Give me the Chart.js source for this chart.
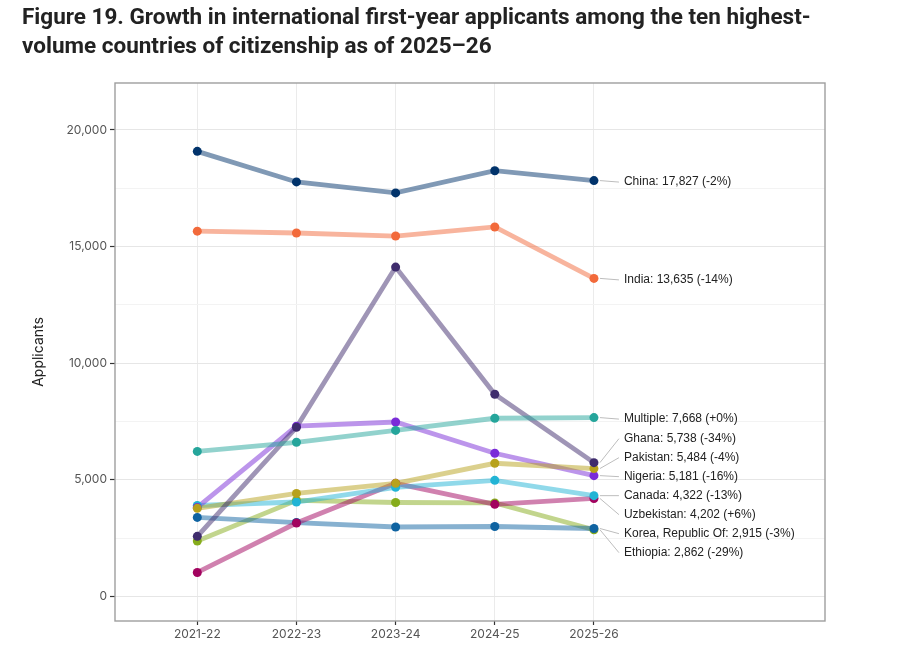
<!DOCTYPE html>
<html>
<head>
<meta charset="utf-8">
<script src="https://cdn.jsdelivr.net/npm/chart.js@4"></script>
<style>
  html, body { margin: 0; padding: 0; background: #ffffff; }
  #wrap { width: 914px; height: 656px; position: relative; }
</style>
</head>
<body>
<div id="wrap"><canvas id="c" width="914" height="656"></canvas></div>
<script>
// ---------------- data ----------------
const categories = ["2021-22", "2022-23", "2023-24", "2024-25", "2025-26"];
const yTickValues = [0, 2500, 5000, 7500, 10000, 12500, 15000, 17500, 20000];

const seriesNames = ["China", "India", "Multiple", "Ghana", "Pakistan", "Nigeria",
                     "Canada", "Uzbekistan", "Korea, Republic Of", "Ethiopia"];

const china      = [19080, 17770, 17300, 18250, 17827];
const india      = [15660, 15580, 15450, 15840, 13635];
const multiple   = [6220, 6610, 7120, 7640, 7668];
const ghana      = [2580, 7250, 14120, 8670, 5738];
const pakistan   = [3780, 4420, 4850, 5710, 5484];
const nigeria    = [3820, 7300, 7480, 6140, 5181];
const canada     = [3900, 4050, 4680, 4980, 4322];
const uzbekistan = [1030, 3150, 4850, 3950, 4202];
const korea      = [3390, 3170, 2980, 3000, 2915];
const ethiopia   = [2380, 4120, 4030, 4010, 2862];

const changeLabels = ["-2%", "-14%", "+0%", "-34%", "-4%", "-16%", "-13%", "+6%", "-3%", "-29%"];

const seriesValues = [china, india, multiple, ghana, pakistan, nigeria, canada, uzbekistan, korea, ethiopia];
const seriesColors = ["#01336b", "#f26a3b", "#25a59b", "#3f2c6d", "#b7a21c",
                      "#7a2cd8", "#22b4d5", "#a2035f", "#0f63a1", "#86ac1b"];

function hexA(hex, a) {
  const r = parseInt(hex.slice(1, 3), 16), g = parseInt(hex.slice(3, 5), 16), b = parseInt(hex.slice(5, 7), 16);
  return `rgba(${r},${g},${b},${a})`;
}

const lineDatasets = seriesValues.map((vals, i) => ({
  label: seriesNames[i] + " line",
  data: vals.map((v, j) => ({ x: j, y: v })),
  borderColor: hexA(seriesColors[i], 0.5),
  borderWidth: 4.8,
  pointRadius: 0,
  pointHoverRadius: 0,
  tension: 0,
  fill: false,
  order: 2
}));
const pointDatasets = seriesValues.map((vals, i) => ({
  label: seriesNames[i],
  data: vals.map((v, j) => ({ x: j, y: v })),
  showLine: false,
  pointRadius: 4.5,
  pointBackgroundColor: seriesColors[i],
  pointBorderWidth: 0,
  order: 1
}));

// -------- end labels with simple repel ----------
const endLabels = {
  id: "endLabels",
  afterDatasetsDraw(chart) {
    const { ctx, scales: { x, y } } = chart;
    const last = categories.length - 1;
    const px = x.getPixelForValue(last);
    const gap = 19;
    let items = seriesValues.map((vals, i) => ({ i, target: y.getPixelForValue(vals[last]) }));
    items.sort((a, b) => a.target - b.target);
    let clusters = items.map(it => ({ members: [it] }));
    const place = c => {
      const mean = c.members.reduce((s, m) => s + m.target, 0) / c.members.length;
      c.top = mean - gap * (c.members.length - 1) / 2;
    };
    clusters.forEach(place);
    let merged = true;
    while (merged) {
      merged = false;
      for (let k = 0; k < clusters.length - 1; k++) {
        const a = clusters[k], b = clusters[k + 1];
        const aBottom = a.top + gap * (a.members.length - 1);
        if (b.top - aBottom < gap) {
          a.members = a.members.concat(b.members);
          clusters.splice(k + 1, 1);
          place(a);
          merged = true;
          break;
        }
      }
    }
    ctx.save();
    ctx.font = "12px 'Liberation Sans', Arial, sans-serif";
    ctx.textBaseline = "middle";
    ctx.textAlign = "left";
    const lx = px + 29;
    clusters.forEach(c => {
      c.members.forEach((m, k) => {
        const ly = c.top + gap * k + 1.5;
        ctx.strokeStyle = "#bdbdbd";
        ctx.lineWidth = 1;
        ctx.beginPath();
        ctx.moveTo(px + 6, m.target);
        ctx.lineTo(lx - 4, ly);
        ctx.stroke();
        const vals = seriesValues[m.i];
        const txt = `${seriesNames[m.i]}: ${vals[last].toLocaleString("en-US")} (${changeLabels[m.i]})`;
        ctx.fillStyle = "#222222";
        ctx.fillText(txt, lx + 1, ly);
      });
    });
    ctx.restore();
  }
};

const panelBorder = {
  id: "panelBorder",
  afterDatasetsDraw(chart) {
    const { ctx, chartArea: a } = chart;
    ctx.save();
    ctx.strokeStyle = "#9e9e9e";
    ctx.lineWidth = 1.4;
    ctx.strokeRect(a.left, a.top, a.right - a.left, a.bottom - a.top);
    ctx.restore();
  }
};

new Chart(document.getElementById("c"), {
  type: "line",
  data: { datasets: [...lineDatasets, ...pointDatasets] },
  options: {
    responsive: false,
    animation: false,
    devicePixelRatio: 1,
    layout: { padding: { left: 22, top: 4, right: 89, bottom: 0 } },
    plugins: {
      legend: { display: false },
      tooltip: { enabled: false },
      title: {
        display: true,
        align: "start",
        text: ["Figure 19. Growth in international first-year applicants among the ten highest-",
               "volume countries of citizenship as of 2025\u201326"],
        color: "#222222",
        font: { family: "Roboto, 'Noto Sans', sans-serif", size: 22.5, weight: "bold", lineHeight: "29px" },
        padding: { top: 0, bottom: 21 }
      }
    },
    scales: {
      x: {
        type: "linear",
        min: -0.83,
        max: 6.33,
        afterBuildTicks(scale) { scale.ticks = categories.map((c, i) => ({ value: i })); },
        afterFit(scale) { scale.height = 35; },
        ticks: {
          callback: v => categories[v] ?? "",
          color: "#555555",
          font: { family: "Inter, 'Open Sans', sans-serif", size: 12 },
          padding: 2,
          maxRotation: 0,
          autoSkip: false
        },
        grid: { color: "#ebebeb", lineWidth: 1, tickLength: 4, tickColor: "#333333", tickWidth: 1.2 },
        border: { display: false }
      },
      y: {
        type: "linear",
        min: -1050,
        max: 22010,
        afterBuildTicks(scale) { scale.ticks = yTickValues.map(v => ({ value: v })); },
        afterFit(scale) { scale.width = 93; },
        ticks: {
          callback: v => (v % 5000 === 0 ? v.toLocaleString("en-US") : ""),
          color: "#555555",
          font: { family: "Inter, 'Open Sans', sans-serif", size: 12 },
          padding: 3,
          autoSkip: false
        },
        grid: {
          color: ctx => (ctx.tick && ctx.tick.value % 5000 === 0 ? "#e6e6e6" : "#f3f3f3"),
          lineWidth: 1,
          tickLength: 5,
          tickColor: ctx => (ctx.tick && ctx.tick.value % 5000 === 0 ? "#333333" : "rgba(0,0,0,0)"),
          tickWidth: 1.2
        },
        border: { display: false },
        title: {
          display: true,
          text: "Applicants",
          color: "#222222",
          font: { family: "Inter, 'Open Sans', sans-serif", size: 14 },
          padding: { top: 8, bottom: 0 }
        }
      }
    }
  },
  plugins: [panelBorder, endLabels]
});
</script>
</body>
</html>
